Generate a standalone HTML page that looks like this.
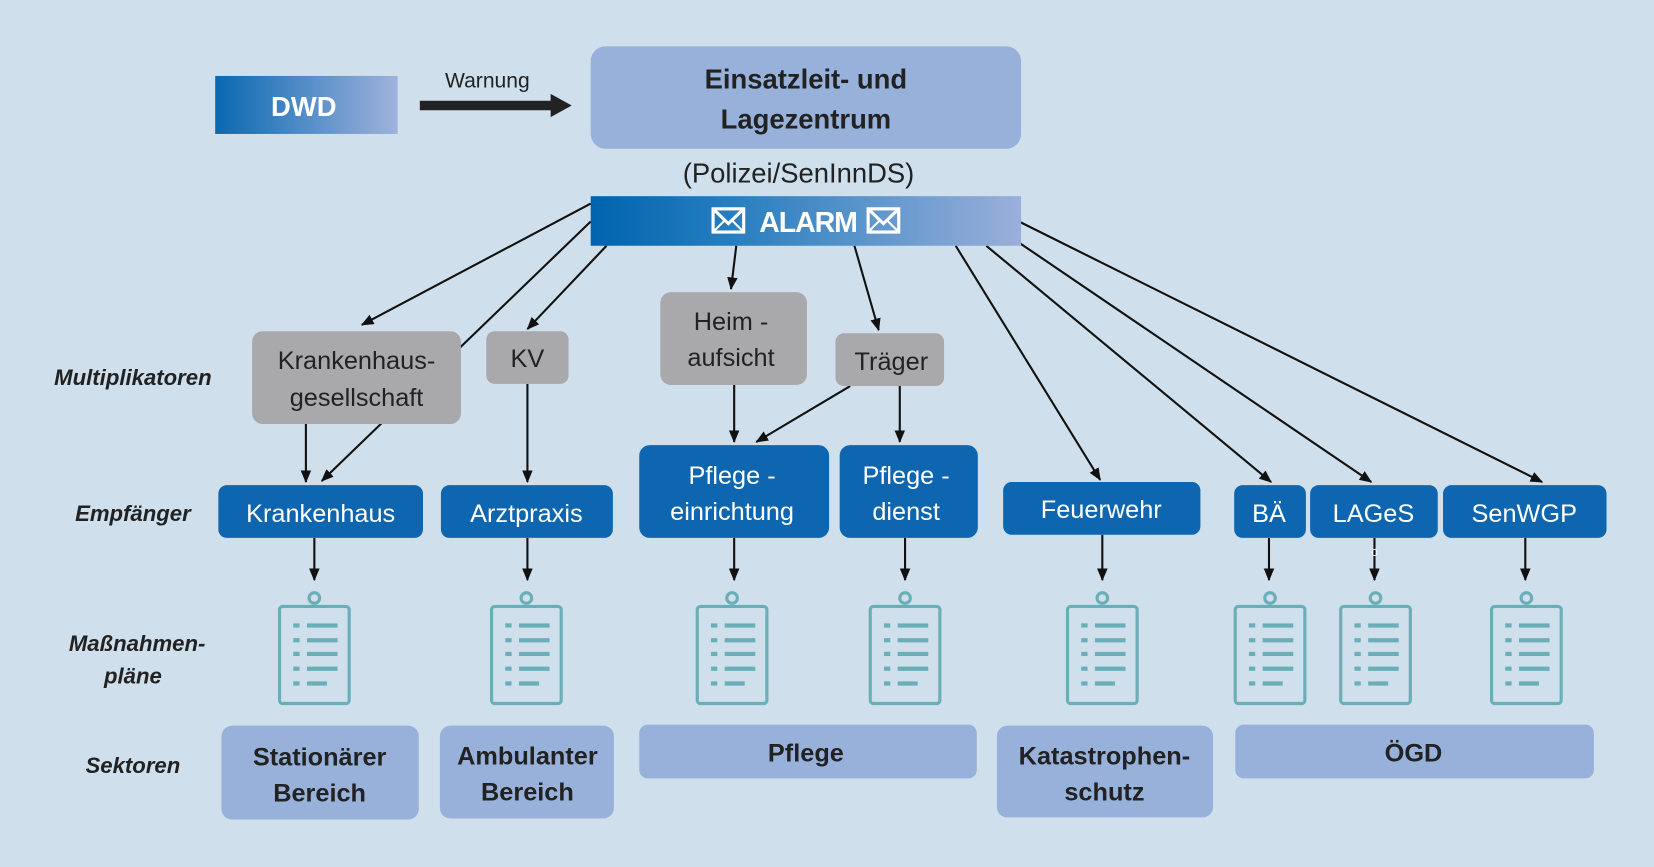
<!DOCTYPE html>
<html><head><meta charset="utf-8"><style>
html,body{margin:0;padding:0;background:#cfe0ec;}
svg{display:block;}
text{font-family:"Liberation Sans",sans-serif;}
</style></head><body>
<svg width="1654" height="867" viewBox="0 0 1568 822" preserveAspectRatio="none" xmlns="http://www.w3.org/2000/svg">
<defs>
<linearGradient id="g1" x1="0" x2="1"><stop offset="0" stop-color="#0a68b2"/><stop offset="1" stop-color="#9fb2dc"/></linearGradient>
<linearGradient id="g2" x1="0" x2="1"><stop offset="0" stop-color="#0063ae"/><stop offset="0.35" stop-color="#2a80c0"/><stop offset="1" stop-color="#9bafda"/></linearGradient>
<marker id="a" markerWidth="12" markerHeight="10" refX="11" refY="5" orient="auto" markerUnits="userSpaceOnUse"><path d="M0,0 L12,5 L0,10 z" fill="#111"/></marker>
<g id="clip" fill="none" stroke="#6aaeb8" stroke-width="3">
<circle cx="0" cy="-8" r="5"/>
<rect x="-33" y="0" width="66" height="92" rx="3"/>
<g stroke-width="4">
<line x1="-20" y1="18" x2="-14" y2="18"/><line x1="-7" y1="18" x2="22" y2="18"/>
<line x1="-20" y1="32" x2="-14" y2="32"/><line x1="-7" y1="32" x2="22" y2="32"/>
<line x1="-20" y1="45" x2="-14" y2="45"/><line x1="-7" y1="45" x2="22" y2="45"/>
<line x1="-20" y1="59" x2="-14" y2="59"/><line x1="-7" y1="59" x2="22" y2="59"/>
<line x1="-20" y1="73" x2="-14" y2="73"/><line x1="-7" y1="73" x2="12" y2="73"/>
</g></g>
</defs>
<rect width="1568" height="822" fill="#cfe0ec"/>

<!-- connectors -->
<g stroke="#111" stroke-width="2" fill="none" marker-end="url(#a)">
<line x1="560" y1="193" x2="343" y2="308"/>
<line x1="560" y1="210" x2="305" y2="456"/>
<line x1="575" y1="233" x2="500" y2="312"/>
<line x1="698" y1="233" x2="693" y2="274"/>
<line x1="810" y1="233" x2="833" y2="313"/>
<line x1="906" y1="233" x2="1043" y2="455"/>
<line x1="935" y1="233" x2="1205" y2="457"/>
<line x1="966" y1="230" x2="1300" y2="457"/>
<line x1="966" y1="210" x2="1462" y2="457"/>
<line x1="290" y1="402" x2="290" y2="457"/>
<line x1="500" y1="364" x2="500" y2="457"/>
<line x1="696" y1="365" x2="696" y2="419"/>
<line x1="806" y1="366" x2="717" y2="419"/>
<line x1="853" y1="366" x2="853" y2="419"/>
<line x1="298" y1="510" x2="298" y2="550"/>
<line x1="500" y1="510" x2="500" y2="550"/>
<line x1="696" y1="510" x2="696" y2="550"/>
<line x1="858" y1="510" x2="858" y2="550"/>
<line x1="1045" y1="507" x2="1045" y2="550"/>
<line x1="1203" y1="510" x2="1203" y2="550"/>
<line x1="1303" y1="510" x2="1303" y2="550"/>
<line x1="1446" y1="510" x2="1446" y2="550"/>
</g>

<!-- top -->
<rect x="204" y="72" width="173" height="55" fill="url(#g1)"/>
<text x="288" y="110" font-size="26" font-weight="bold" fill="#fff" text-anchor="middle">DWD</text>
<line x1="398" y1="100" x2="526" y2="100" stroke="#222" stroke-width="9"/>
<path d="M522,89 L542,100 L522,111 z" fill="#222"/>
<text x="462" y="83" font-size="20" fill="#222" text-anchor="middle">Warnung</text>
<rect x="560" y="44" width="408" height="97" rx="14" fill="#98b1da"/>
<text x="764" y="84" font-size="26" font-weight="bold" fill="#222" text-anchor="middle">Einsatzleit- und</text>
<text x="764" y="122" font-size="26" font-weight="bold" fill="#222" text-anchor="middle">Lagezentrum</text>
<text x="757" y="173" font-size="26" fill="#222" text-anchor="middle">(Polizei/SenInnDS)</text>
<rect x="560" y="186" width="408" height="47" fill="url(#g2)"/>
<g stroke="#fff" stroke-width="3" fill="none">
<rect x="676" y="198" width="29" height="22"/><path d="M676,198 L690.5,212 L705,198"/><path d="M676,220 L687,209 M705,220 L694,209" stroke-width="2"/>
<rect x="823" y="198" width="29" height="22"/><path d="M823,198 L837.5,212 L852,198"/><path d="M823,220 L834,209 M852,220 L841,209" stroke-width="2"/>
</g>
<text x="766" y="220" font-size="27" font-weight="bold" fill="#fff" text-anchor="middle" letter-spacing="-1">ALARM</text>

<!-- gray multiplicators -->
<g fill="#a9a9ab">
<rect x="239" y="314" width="198" height="88" rx="10"/>
<rect x="461" y="314" width="78" height="50" rx="8"/>
<rect x="626" y="277" width="139" height="88" rx="10"/>
<rect x="792" y="316" width="103" height="50" rx="8"/>
</g>
<g font-size="24" fill="#222" text-anchor="middle">
<text x="338" y="350">Krankenhaus-</text><text x="338" y="385">gesellschaft</text>
<text x="500" y="348">KV</text>
<text x="693" y="313">Heim -</text><text x="693" y="347">aufsicht</text>
<text x="845" y="351">Träger</text>
</g>

<!-- blue receivers -->
<g fill="#0f66b0">
<rect x="207" y="460" width="194" height="50" rx="8"/>
<rect x="418" y="460" width="163" height="50" rx="8"/>
<rect x="606" y="422" width="180" height="88" rx="10"/>
<rect x="796" y="422" width="131" height="88" rx="10"/>
<rect x="951" y="457" width="187" height="50" rx="8"/>
<rect x="1170" y="460" width="68" height="50" rx="8"/>
<rect x="1242" y="460" width="121" height="50" rx="8"/>
<rect x="1368" y="460" width="155" height="50" rx="8"/>
</g>
<g font-size="24" fill="#fff" text-anchor="middle">
<text x="304" y="495">Krankenhaus</text>
<text x="499" y="495">Arztpraxis</text>
<text x="694" y="459">Pflege -</text><text x="694" y="493">einrichtung</text>
<text x="859" y="459">Pflege -</text><text x="859" y="493">dienst</text>
<text x="1044" y="491">Feuerwehr</text>
<text x="1203" y="495">BÄ</text>
<text x="1302" y="495">LAGeS</text>
<text x="1445" y="495">SenWGP</text>
</g>
<text x="1303" y="527" font-size="12" fill="#fff" text-anchor="middle">o</text>

<!-- clipboards -->
<use href="#clip" x="298" y="575"/>
<use href="#clip" x="499" y="575"/>
<use href="#clip" x="694" y="575"/>
<use href="#clip" x="858" y="575"/>
<use href="#clip" x="1045" y="575"/>
<use href="#clip" x="1204" y="575"/>
<use href="#clip" x="1304" y="575"/>
<use href="#clip" x="1447" y="575"/>

<!-- sectors -->
<g fill="#98b1da">
<rect x="210" y="688" width="187" height="89" rx="10"/>
<rect x="417" y="688" width="165" height="88" rx="10"/>
<rect x="606" y="687" width="320" height="51" rx="8"/>
<rect x="945" y="688" width="205" height="87" rx="10"/>
<rect x="1171" y="687" width="340" height="51" rx="8"/>
</g>
<g font-size="24" font-weight="bold" fill="#222" text-anchor="middle">
<text x="303" y="726">Stationärer</text><text x="303" y="760">Bereich</text>
<text x="500" y="725">Ambulanter</text><text x="500" y="759">Bereich</text>
<text x="764" y="722">Pflege</text>
<text x="1047" y="725">Katastrophen-</text><text x="1047" y="759">schutz</text>
<text x="1340" y="722">ÖGD</text>
</g>

<!-- left labels -->
<g font-size="21" font-weight="bold" font-style="italic" fill="#222" text-anchor="middle">
<text x="126" y="365">Multiplikatoren</text>
<text x="126" y="494">Empfänger</text>
<text x="130" y="617">Maßnahmen-</text>
<text x="126" y="648">pläne</text>
<text x="126" y="733">Sektoren</text>
</g>
</svg>
</body></html>
